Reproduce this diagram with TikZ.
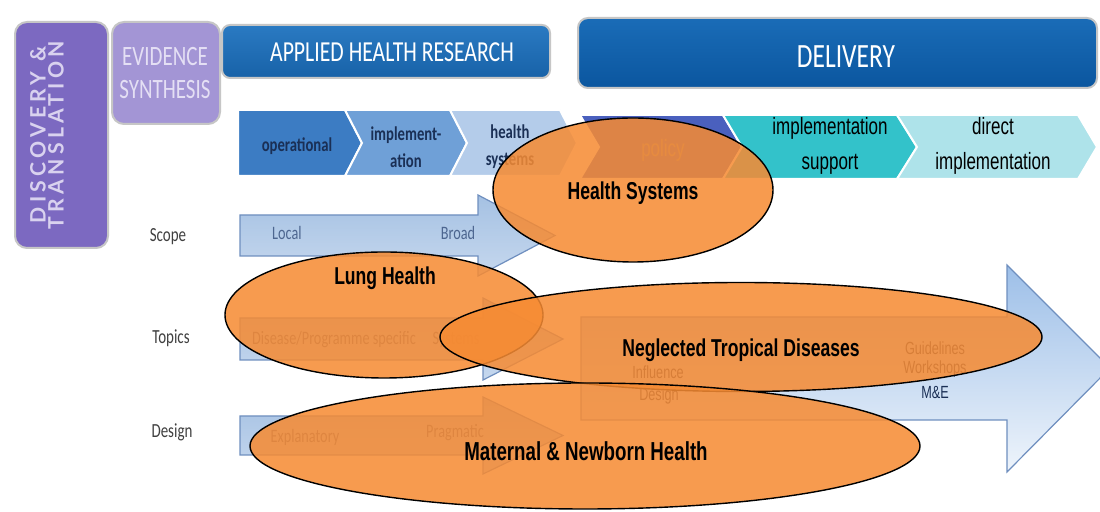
\documentclass[tikz,border=0pt]{standalone}
\usepackage{fontspec}
\setmainfont{Carlito}
\newfontfamily\calN[FakeStretch=0.75]{Carlito}
\newfontfamily\arN[FakeStretch=0.72]{Liberation Sans}
\newfontfamily\gillf[LetterSpace=20]{Lato}
\usetikzlibrary{shapes.geometric}
\definecolor{purD}{HTML}{7C69C1}
\definecolor{purL}{HTML}{A395D5}
\definecolor{purT}{HTML}{D9D2EF}
\definecolor{purT2}{HTML}{E4DFF4}
\definecolor{blueTop}{HTML}{2A7AC2}
\definecolor{blueBot}{HTML}{1862A8}
\definecolor{delTop}{HTML}{1A6CB7}
\definecolor{delBot}{HTML}{0B569F}
\definecolor{chA}{HTML}{3C7CC3}
\definecolor{chB}{HTML}{6FA0D7}
\definecolor{chC}{HTML}{B4CCEA}
\definecolor{chD}{HTML}{4A60BE}
\definecolor{chE}{HTML}{33C2CA}
\definecolor{chF}{HTML}{AEE3EA}
\definecolor{navy}{HTML}{1A2F55}
\definecolor{arrEdge}{HTML}{6F8FBF}
\definecolor{arrTop}{HTML}{A5C1E3}
\definecolor{arrBot}{HTML}{C6D8EE}
\definecolor{bigTop}{HTML}{9DBFE8}
\definecolor{bigBot}{HTML}{EEF4FB}
\definecolor{ora}{HTML}{F68B33}
\definecolor{arrText}{HTML}{4D6690}
\begin{document}
\begin{tikzpicture}[x=0.5pt,y=-0.5pt,
  hbox/.style={draw=gray!45, line width=1pt},
  chev/.style={draw=white, line width=1pt},
  barrow/.style={draw=arrEdge, line width=0.6pt, top color=arrTop, bottom color=arrBot},
  ell/.style={ellipse, draw=black, line width=0.7pt, fill=ora, fill opacity=0.86, draw opacity=1, inner sep=0pt},
  lab/.style={font=\arN\bfseries\fontsize{12.2}{14}\selectfont, text=black, inner sep=0pt},
  rowlab/.style={font=\calN\fontsize{10}{12}\selectfont, text=black!75, inner sep=0pt},
  atext/.style={font=\calN\fontsize{9.5}{11}\selectfont, text=arrText, inner sep=0pt},
  btext/.style={font=\arN\fontsize{8.8}{10}\selectfont, text=navy, inner sep=0pt},
  chtextL/.style={font=\calN\bfseries\fontsize{9.8}{13.5}\selectfont, text=navy, align=center, inner sep=0pt},
  chtextR/.style={font=\arN\fontsize{11.8}{17.5}\selectfont, text=black, align=center, inner sep=0pt}
]
\useasboundingbox (0,0) rectangle (1100,512);
\fill[white] (0,0) rectangle (1100,512);

% top boxes
\draw[hbox, fill=purD, rounded corners=6pt] (15,22) rectangle (108,248);
\node[rotate=90, align=center, text=purT, inner sep=0pt, font=\gillf\bfseries\fontsize{10.6}{9}\selectfont] (disc) at (47,135) {DISCOVERY \&\\TRANSLATION};
\draw[hbox, fill=purL, rounded corners=6pt] (112,22) rectangle (220,124);
\node[align=center, text=purT2, inner sep=0pt, font=\calN\fontsize{14}{16.5}\selectfont] (evid) at (165,73) {EVIDENCE\\SYNTHESIS};
\draw[hbox, top color=blueTop, bottom color=blueBot, rounded corners=4pt] (222,25) rectangle (550,78);
\node[text=white, inner sep=0pt, font=\calN\fontsize{14.5}{16}\selectfont] (ahr) at (392,52) {APPLIED HEALTH RESEARCH};
\draw[hbox, top color=delTop, bottom color=delBot, rounded corners=5pt] (578,18) rectangle (1097,88);
\node[text=white, inner sep=0pt, font=\calN\fontsize{17}{19}\selectfont] (del) at (846,57) {DELIVERY};

% chevrons
\draw[chev, fill=chA] (238,110)--(345,110)--(362,143)--(345,176)--(238,176)--cycle;
\draw[chev, fill=chB] (345,110)--(450,110)--(467,143)--(450,176)--(345,176)--(362,143)--cycle;
\draw[chev, fill=chC] (450,110)--(560,110)--(577,143)--(560,176)--(450,176)--(467,143)--cycle;
\draw[chev, fill=chD] (580,115)--(723,115)--(742,147)--(723,179)--(580,179)--(599,147)--cycle;
\draw[chev, fill=chE] (723,115)--(897,115)--(917,147)--(897,179)--(723,179)--(742,147)--cycle;
\draw[chev, fill=chF] (897,115)--(1078,115)--(1097,147)--(1078,179)--(897,179)--(917,147)--cycle;
\node[chtextL] (c1) at (297,146) {operational};
\node[chtextL] (c2) at (406,147) {implement-\\ation};
\node[chtextL] (c3) at (510,147) {health\\systems};
\node[chtextR, text=black!45] (c4) at (663,150) {policy};
\node[chtextR] (c5) at (830,146) {implementation\\support};
\node[chtextR] (c6) at (993,146) {direct\\implementation};

% row labels
\node[rowlab] (scope) at (168,237) {Scope};
\node[rowlab] (topics) at (171,338) {Topics};
\node[rowlab] (design) at (172,432) {Design};

% arrows
\draw[barrow] (240,215)--(478,215)--(478,195)--(555,235.5)--(478,276)--(478,256)--(240,256)--cycle;
\draw[barrow] (240,318)--(483,318)--(483,298)--(563,339)--(483,380)--(483,360)--(240,360)--cycle;
\draw[barrow] (240,416)--(483,416)--(483,397)--(563,435.5)--(483,474)--(483,455)--(240,455)--cycle;
\begin{scope}
\clip (0,0) rectangle (1100,512);
\draw[draw=arrEdge, line width=0.6pt, top color=bigTop, bottom color=bigBot] (581,317)--(1007,317)--(1007,265)--(1110,368)--(1007,472)--(1007,420)--(581,420)--cycle;
\end{scope}
\node[atext] (loc) at (287,233) {Local};
\node[atext] (brd) at (458,233) {Broad};
\node[atext] (dps) at (334,340) {Disease/Programme specific};
\node[atext] (sys) at (456,340) {Systems};
\node[atext] (expl) at (305,437) {Explanatory};
\node[atext] (prag) at (455,433) {Pragmatic};
\node[btext] (infl) at (658,372) {Influence};
\node[btext] (desg) at (659,396) {Design};
\node[btext] (guid) at (935,348) {Guidelines};
\node[btext] (work) at (935,369) {Workshops};
\node[btext] (me) at (935,393) {M\&E};

% ellipses
\node[ell, minimum width=140pt, minimum height=72pt] (hs) at (633,190) {};
\node[ell, minimum width=159pt, minimum height=63pt] (lung) at (384,315) {};
\node[ell, minimum width=301pt, minimum height=54.5pt] (ntd) at (741,337) {};
\node[ell, minimum width=335pt, minimum height=63pt] (mnh) at (585,446) {};

\node[lab] (hsl) at (633,193) {Health Systems};
\node[lab] (lungl) at (385,278) {Lung Health};
\node[lab] (ntdl) at (741,350) {Neglected Tropical Diseases};
\node[lab, font=\arN\bfseries\fontsize{13}{15}\selectfont] (mnhl) at (586,451) {Maternal \& Newborn Health};
\end{tikzpicture}
\end{document}
